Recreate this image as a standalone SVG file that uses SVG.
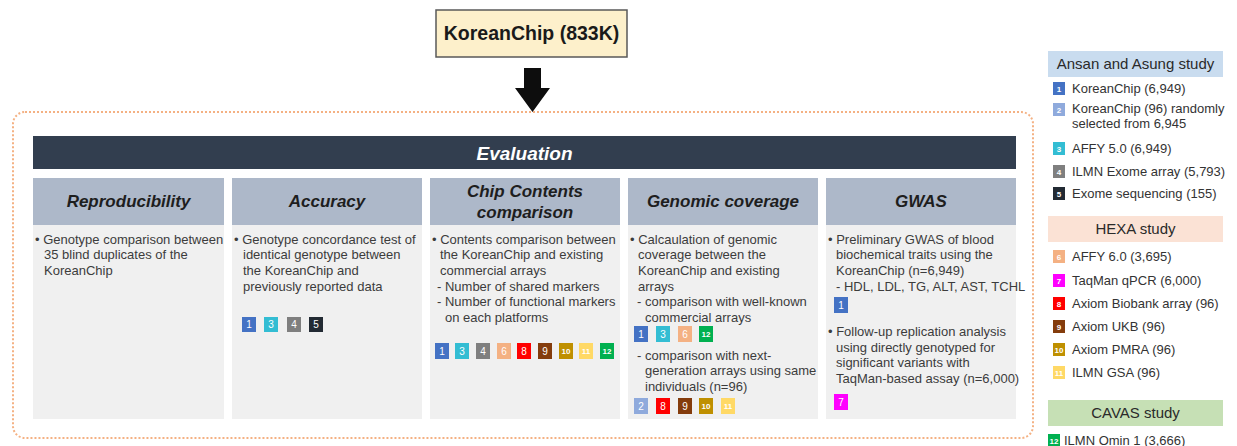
<svg xmlns="http://www.w3.org/2000/svg" width="1237" height="446" viewBox="0 0 1237 446">
  <style>
    text { font-family: "Liberation Sans", Arial, sans-serif; }
    .title { font-size: 19.5px; font-weight: bold; fill: #1a1a1a; text-anchor: middle; }
    .eval { font-size: 19px; font-weight: bold; font-style: italic; fill: #ffffff; text-anchor: middle; }
    .hdr { fill: #adb8c9; }
    .body { fill: #f0f0f0; }
    .htxt { font-size: 17px; font-weight: bold; font-style: italic; fill: #1e1e1e; text-anchor: middle; }
    .txt { font-size: 13px; fill: #3c3c3c; }
    .lg { font-size: 13px; fill: #333333; }
    .lgh { font-size: 15px; fill: #2a2a2a; text-anchor: middle; }
    .bn { font-size: 10px; fill: #ffffff; text-anchor: middle; }
    .bs { font-size: 8px; font-weight: bold; fill: #ffffff; text-anchor: middle; }
    .c1 { fill: #4472c4; } .c2 { fill: #8faadc; } .c3 { fill: #33bdd3; }
    .c4 { fill: #7f7f7f; } .c5 { fill: #222a33; } .c6 { fill: #f4b183; }
    .c7 { fill: #ff00ff; } .c8 { fill: #ff0000; } .c9 { fill: #843c0c; }
    .c10 { fill: #bf9000; } .c11 { fill: #ffd966; } .c12 { fill: #00b050; }
  </style>

  <!-- source chip -->
  <g id="koreanchip">
    <rect x="436" y="10" width="191" height="47" fill="#fdf0cb" stroke="#595959" stroke-width="1.5"/>
    <text class="title" x="531.5" y="40">KoreanChip (833K)</text>
  </g>

  <!-- connectors -->
  <g id="connectors">
    <polygon points="524,68 541,68 541,88 550,88 532.5,112 515,88 524,88" fill="#0d0d0d"/>
  </g>

  <!-- evaluation frame -->
  <g id="evaluation">
    <rect x="13" y="112" width="1020" height="326" rx="12" fill="none" stroke="#f4b183" stroke-width="2" stroke-dasharray="2 2"/>
    <rect x="33" y="136" width="983" height="33" fill="#323e4f"/>
    <text class="eval" x="524.5" y="159.5">Evaluation</text>
  </g>

  <!-- Reproducibility -->
  <g id="col-reproducibility">
    <rect class="hdr" x="33" y="178" width="191" height="47"/>
    <rect class="body" x="33" y="225" width="191" height="194"/>
    <text class="htxt" x="128.5" y="207">Reproducibility</text>
    <text class="txt" x="35" y="244">• Genotype comparison between</text>
    <text class="txt" x="44" y="259">35 blind duplicates of the</text>
    <text class="txt" x="44" y="275">KoreanChip</text>
  </g>

  <!-- Accuracy -->
  <g id="col-accuracy">
    <rect class="hdr" x="232" y="178" width="190" height="47"/>
    <rect class="body" x="232" y="225" width="190" height="194"/>
    <text class="htxt" x="327" y="207">Accuracy</text>
    <text class="txt" x="234" y="244">• Genotype concordance test of</text>
    <text class="txt" x="243" y="259">identical genotype between</text>
    <text class="txt" x="243" y="275">the KoreanChip and</text>
    <text class="txt" x="243" y="291">previously reported data</text>
    <g>
      <rect class="c1" x="242" y="317" width="14" height="15"/><text class="bn" x="249" y="328">1</text>
      <rect class="c3" x="264" y="317" width="14" height="15"/><text class="bn" x="271" y="328">3</text>
      <rect class="c4" x="287" y="317" width="14" height="15"/><text class="bn" x="294" y="328">4</text>
      <rect class="c5" x="309" y="317" width="14" height="15"/><text class="bn" x="316" y="328">5</text>
    </g>
  </g>

  <!-- Chip Contents comparison -->
  <g id="col-contents">
    <rect class="hdr" x="430" y="178" width="190" height="47"/>
    <rect class="body" x="430" y="225" width="190" height="194"/>
    <text class="htxt" x="525" y="197">Chip Contents</text>
    <text class="htxt" x="525" y="218">comparison</text>
    <text class="txt" x="432" y="244">• Contents comparison between</text>
    <text class="txt" x="440" y="259">the KoreanChip and existing</text>
    <text class="txt" x="440" y="275">commercial arrays</text>
    <text class="txt" x="437" y="291">- Number of shared markers</text>
    <text class="txt" x="437" y="306">- Number of functional markers</text>
    <text class="txt" x="445" y="322">on each platforms</text>
    <g>
      <rect class="c1" x="435" y="343" width="14" height="16"/><text class="bn" x="442" y="355">1</text>
      <rect class="c3" x="455" y="343" width="14" height="16"/><text class="bn" x="462" y="355">3</text>
      <rect class="c4" x="476" y="343" width="14" height="16"/><text class="bn" x="483" y="355">4</text>
      <rect class="c6" x="497" y="343" width="14" height="16"/><text class="bn" x="504" y="355">6</text>
      <rect class="c8" x="517" y="343" width="14" height="16"/><text class="bn" x="524" y="355">8</text>
      <rect class="c9" x="538" y="343" width="14" height="16"/><text class="bn" x="545" y="355">9</text>
      <rect class="c10" x="559" y="343" width="14" height="16"/><text class="bs" x="566" y="354">10</text>
      <rect class="c11" x="579" y="343" width="14" height="16"/><text class="bs" x="586" y="354">11</text>
      <rect class="c12" x="600" y="343" width="14" height="16"/><text class="bs" x="607" y="354">12</text>
    </g>
  </g>

  <!-- Genomic coverage -->
  <g id="col-coverage">
    <rect class="hdr" x="628" y="178" width="190" height="47"/>
    <rect class="body" x="628" y="225" width="190" height="194"/>
    <text class="htxt" x="723" y="207">Genomic coverage</text>
    <text class="txt" x="630" y="244">• Calcaulation of genomic</text>
    <text class="txt" x="638" y="259">coverage between the</text>
    <text class="txt" x="638" y="275">KoreanChip and existing</text>
    <text class="txt" x="638" y="291">arrays</text>
    <text class="txt" x="637" y="306">- comparison with well-known</text>
    <text class="txt" x="645" y="322">commercial arrays</text>
    <g>
      <rect class="c1" x="634" y="326" width="14" height="16"/><text class="bn" x="641" y="338">1</text>
      <rect class="c3" x="656" y="326" width="14" height="16"/><text class="bn" x="663" y="338">3</text>
      <rect class="c6" x="678" y="326" width="14" height="16"/><text class="bn" x="685" y="338">6</text>
      <rect class="c12" x="699" y="326" width="14" height="16"/><text class="bs" x="706" y="337">12</text>
    </g>
    <text class="txt" x="637" y="360">- comparison with next-</text>
    <text class="txt" x="645" y="375">generation arrays using same</text>
    <text class="txt" x="645" y="391">individuals (n=96)</text>
    <g>
      <rect class="c2" x="634" y="398" width="14" height="16"/><text class="bn" x="641" y="410">2</text>
      <rect class="c8" x="656" y="398" width="14" height="16"/><text class="bn" x="663" y="410">8</text>
      <rect class="c9" x="678" y="398" width="14" height="16"/><text class="bn" x="685" y="410">9</text>
      <rect class="c10" x="699" y="398" width="14" height="16"/><text class="bs" x="706" y="409">10</text>
      <rect class="c11" x="721" y="398" width="14" height="16"/><text class="bs" x="728" y="409">11</text>
    </g>
  </g>

  <!-- GWAS -->
  <g id="col-gwas">
    <rect class="hdr" x="826" y="178" width="190" height="47"/>
    <rect class="body" x="826" y="225" width="190" height="194"/>
    <text class="htxt" x="921" y="207">GWAS</text>
    <text class="txt" x="828" y="244">• Preliminary GWAS of blood</text>
    <text class="txt" x="836" y="259">biochemical traits using the</text>
    <text class="txt" x="836" y="275">KoreanChip (n=6,949)</text>
    <text class="txt" x="836" y="291">- HDL, LDL, TG, ALT, AST, TCHL</text>
    <g>
      <rect class="c1" x="834" y="297" width="14" height="16"/><text class="bn" x="841" y="309">1</text>
    </g>
    <text class="txt" x="828" y="336">• Follow-up replication analysis</text>
    <text class="txt" x="836" y="352">using directly genotyped for</text>
    <text class="txt" x="836" y="367">significant variants with</text>
    <text class="txt" x="836" y="383">TaqMan-based assay (n=6,000)</text>
    <g>
      <rect class="c7" x="834" y="394" width="14" height="16"/><text class="bn" x="841" y="406">7</text>
    </g>
  </g>

  <!-- Ansan and Asung study legend -->
  <g id="legend-ansan">
    <rect x="1048" y="51" width="175" height="26" fill="#c9dcef"/>
    <text class="lgh" x="1135.5" y="69">Ansan and Asung study</text>
    <rect class="c1" x="1053" y="82" width="12" height="13"/><text class="bs" x="1059" y="92">1</text>
    <text class="lg" x="1072" y="93">KoreanChip (6,949)</text>
    <rect class="c2" x="1053" y="103" width="12" height="13"/><text class="bs" x="1059" y="113">2</text>
    <text class="lg" x="1072" y="113">KoreanChip (96) randomly</text>
    <text class="lg" x="1072" y="128">selected from 6,945</text>
    <rect class="c3" x="1053" y="142" width="12" height="13"/><text class="bs" x="1059" y="152">3</text>
    <text class="lg" x="1072" y="153">AFFY 5.0 (6,949)</text>
    <rect class="c4" x="1053" y="165" width="12" height="13"/><text class="bs" x="1059" y="175">4</text>
    <text class="lg" x="1072" y="176">ILMN Exome array (5,793)</text>
    <rect class="c5" x="1053" y="187" width="12" height="13"/><text class="bs" x="1059" y="197">5</text>
    <text class="lg" x="1072" y="198">Exome sequencing (155)</text>
  </g>

  <!-- HEXA study legend -->
  <g id="legend-hexa">
    <rect x="1048" y="216" width="175" height="26" fill="#fbe2d5"/>
    <text class="lgh" x="1135.5" y="234">HEXA study</text>
    <rect class="c6" x="1053" y="250" width="12" height="13"/><text class="bs" x="1059" y="260">6</text>
    <text class="lg" x="1072" y="261">AFFY 6.0 (3,695)</text>
    <rect class="c7" x="1053" y="274" width="12" height="13"/><text class="bs" x="1059" y="284">7</text>
    <text class="lg" x="1072" y="285">TaqMan qPCR (6,000)</text>
    <rect class="c8" x="1053" y="297" width="12" height="13"/><text class="bs" x="1059" y="307">8</text>
    <text class="lg" x="1072" y="308">Axiom Biobank array (96)</text>
    <rect class="c9" x="1053" y="320" width="12" height="13"/><text class="bs" x="1059" y="330">9</text>
    <text class="lg" x="1072" y="331">Axiom UKB (96)</text>
    <rect class="c10" x="1053" y="343" width="12" height="13"/><text class="bs" x="1059" y="352.5">10</text>
    <text class="lg" x="1072" y="354">Axiom PMRA (96)</text>
    <rect class="c11" x="1053" y="366" width="12" height="13"/><text class="bs" x="1059" y="375.5">11</text>
    <text class="lg" x="1072" y="377">ILMN GSA (96)</text>
  </g>

  <!-- CAVAS study legend -->
  <g id="legend-cavas">
    <rect x="1048" y="400" width="175" height="26" fill="#c6e0b5"/>
    <text class="lgh" x="1135.5" y="418">CAVAS study</text>
    <rect class="c12" x="1048" y="434" width="12" height="13"/><text class="bs" x="1054" y="443.5">12</text>
    <text class="lg" x="1064" y="445">ILMN Omin 1 (3,666)</text>
  </g>
</svg>
